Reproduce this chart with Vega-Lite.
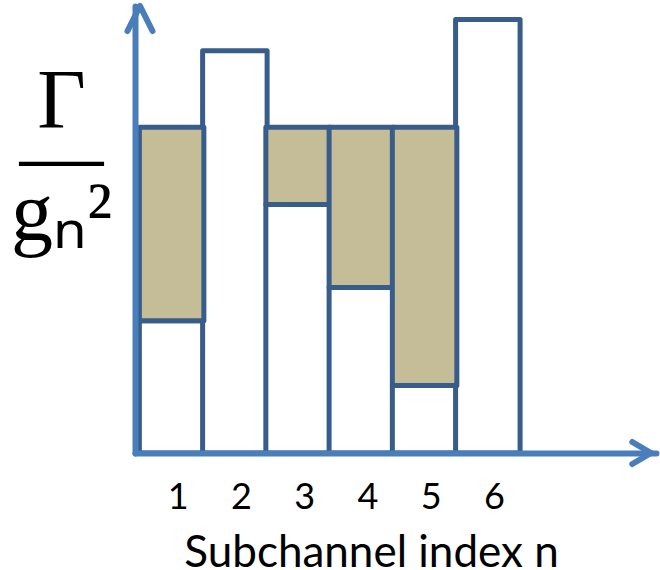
{
  "$schema": "https://vega.github.io/schema/vega-lite/v6.json",
  "width": 521,
  "height": 447,
  "autosize": {"type": "none"},
  "padding": {"left": 135, "top": 6, "right": 4, "bottom": 117},
  "background": "white",
  "config": {"view": {"stroke": null}},
  "data": {
    "values": [
      {"n": 1, "floor": 2.96, "level": 7.29},
      {"n": 2, "floor": 9.0, "level": 7.29},
      {"n": 3, "floor": 5.56, "level": 7.29},
      {"n": 4, "floor": 3.7, "level": 7.29},
      {"n": 5, "floor": 1.51, "level": 7.29},
      {"n": 6, "floor": 9.7, "level": 7.29}
    ]
  },
  "layer": [
    {
      "mark": {"type": "bar", "width": 64.5, "fill": "white", "stroke": "#385D8A", "strokeWidth": 5, "strokeJoin": "round"},
      "encoding": {
        "x": {
          "field": "n",
          "type": "quantitative",
          "scale": {"domain": [0.5, 8.58], "nice": false, "zero": false},
          "axis": {
            "values": [1, 2, 3, 4, 5, 6],
            "format": "d",
            "title": "Subchannel index n",
            "grid": false,
            "ticks": false,
            "tickSize": 0,
            "domainColor": "#4A7EBB",
            "domainWidth": 6,
            "domainCap": "round",
            "labelFont": "Lato",
            "labelFontSize": 36,
            "labelColor": "black",
            "labelPadding": 55,
            "labelBaseline": "alphabetic",
            "labelOffset": 6,
            "labelFlush": false,
            "labelOverlap": false,
            "titleFont": "Lato",
            "titleFontSize": 44,
            "titleFontWeight": "normal",
            "titleColor": "black",
            "titleX": 236,
            "titleY": 113,
            "titleAlign": "center",
            "titleBaseline": "alphabetic",
            "zindex": 1
          }
        },
        "y": {
          "field": "floor",
          "type": "quantitative",
          "scale": {"domain": [0, 10], "nice": false},
          "axis": {
            "title": ["Γ", "—", "gₙ²"],
            "labels": false,
            "ticks": false,
            "grid": false,
            "domainColor": "#4A7EBB",
            "domainWidth": 6,
            "domainCap": "round",
            "titleAngle": 0,
            "titleFont": "Liberation Serif",
            "titleFontSize": 84,
            "titleFontWeight": "normal",
            "titleColor": "black",
            "titleAlign": "center",
            "titleBaseline": "alphabetic",
            "titleX": -74,
            "titleY": 121,
            "titleLineHeight": 56,
            "zindex": 1
          }
        }
      }
    },
    {
      "transform": [{"filter": "datum.level > datum.floor"}],
      "mark": {"type": "bar", "width": 64.5, "fill": "#C4BD97", "stroke": "#385D8A", "strokeWidth": 5, "strokeJoin": "round"},
      "encoding": {
        "x": {"field": "n", "type": "quantitative"},
        "y": {"field": "floor", "type": "quantitative", "axis": {"title": ["Γ", "—", "gₙ²"]}},
        "y2": {"field": "level"}
      }
    },
    {
      "data": {"values": [{"end": "y"}]},
      "mark": {"type": "point", "shape": "M-1,2L0,0L1,2", "size": 625, "filled": false, "stroke": "#4A7EBB", "strokeWidth": 6, "strokeCap": "round", "strokeJoin": "round", "opacity": 1},
      "encoding": {"x": {"datum": 0.5}, "y": {"datum": 10}}
    },
    {
      "data": {"values": [{"end": "x"}]},
      "mark": {"type": "point", "shape": "M-1.7,-1L0,0L-1.7,1", "size": 484, "filled": false, "stroke": "#4A7EBB", "strokeWidth": 6, "strokeCap": "round", "strokeJoin": "round", "opacity": 1},
      "encoding": {"x": {"datum": 8.58}, "y": {"datum": 0}}
    }
  ]
}
